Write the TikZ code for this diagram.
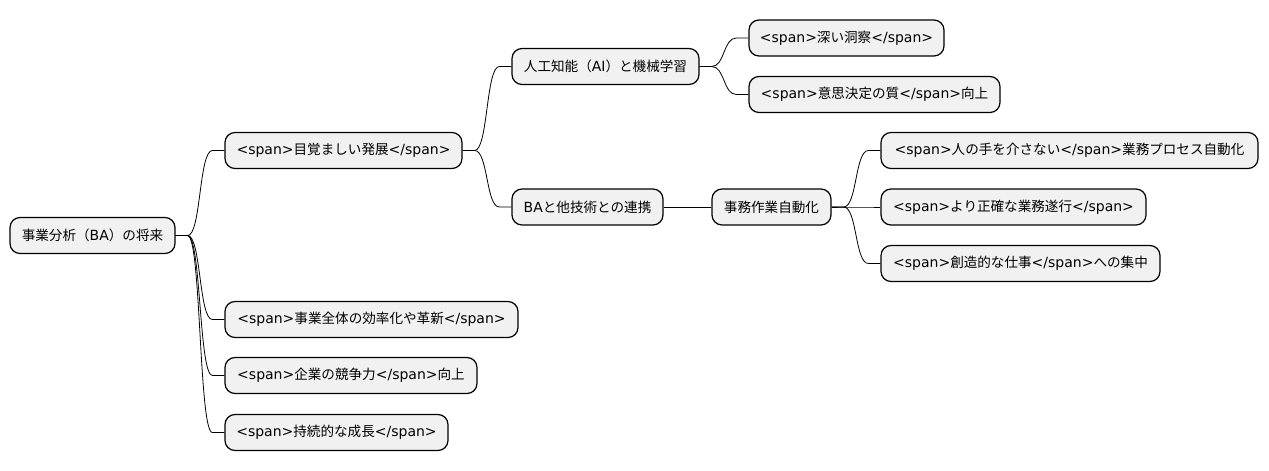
\documentclass[tikz,border=0pt]{standalone}
\usepackage{fontspec}
\setmainfont{DejaVu Sans}
\newfontfamily\cjkfont{Noto Sans CJK JP}[Scale=0.97]
\newcommand\jp[1]{{\cjkfont #1}}
\usetikzlibrary{calc}
\definecolor{nodefill}{HTML}{F1F1F1}
\tikzset{
  mm/.style={draw=black, fill=nodefill, rounded corners=10pt, line width=1.2pt,
    minimum height=36pt, inner xsep=3pt, inner ysep=0pt, font=\fontsize{14}{16}\selectfont, anchor=center},
  conn/.style={draw=black, line width=0.8pt}
}
\newcommand\mmlink[2]{\draw[conn] (#1.east) -- ++(12,0) .. controls +(13.5,0) and +(-13.5,0) .. ($(#2.west)+(-12,0)$) -- (#2.west);}
\begin{document}
\begin{tikzpicture}[x=1pt,y=-1pt]
\useasboundingbox (0,0) rectangle (1269,471);
\node[mm, minimum width=165pt] (root) at (92.5,235.5) {\jp{事業分析（}BA\jp{）の将来}};
\node[mm, minimum width=237pt] (n1) at (343.5,150.5) {<span>\jp{目覚ましい発展}</span>};
\node[mm, minimum width=187pt] (n11) at (605.5,66.5) {\jp{人工知能（}AI\jp{）と機械学習}};
\node[mm, minimum width=195pt] (n111) at (846.5,38) {<span>\jp{深い洞察}</span>};
\node[mm, minimum width=251pt] (n112) at (874.5,94.5) {<span>\jp{意思決定の質}</span>\jp{向上}};
\node[mm, minimum width=151pt] (n12) at (587.5,207) {BA\jp{と他技術との連携}};
\node[mm, minimum width=119pt] (n121) at (771.5,207) {\jp{事務作業自動化}};
\node[mm, minimum width=377pt] (n1211) at (1069.5,150.5) {<span>\jp{人の手を介さない}</span>\jp{業務プロセス自動化}};
\node[mm, minimum width=265pt] (n1212) at (1013.5,207) {<span>\jp{より正確な業務遂行}</span>};
\node[mm, minimum width=279pt] (n1213) at (1020.5,263.5) {<span>\jp{創造的な仕事}</span>\jp{への集中}};
\node[mm, minimum width=293pt] (n2) at (371.5,319.5) {<span>\jp{事業全体の効率化や革新}</span>};
\node[mm, minimum width=252pt] (n3) at (351,375.5) {<span>\jp{企業の競争力}</span>\jp{向上}};
\node[mm, minimum width=223pt] (n4) at (336.5,432.5) {<span>\jp{持続的な成長}</span>};
\mmlink{root}{n1}
\mmlink{root}{n2}
\mmlink{root}{n3}
\mmlink{root}{n4}
\mmlink{n1}{n11}
\mmlink{n1}{n12}
\mmlink{n11}{n111}
\mmlink{n11}{n112}
\draw[conn] (n12.east) -- (n121.west);
\mmlink{n121}{n1211}
\mmlink{n121}{n1212}
\mmlink{n121}{n1213}
\end{tikzpicture}
\end{document}
